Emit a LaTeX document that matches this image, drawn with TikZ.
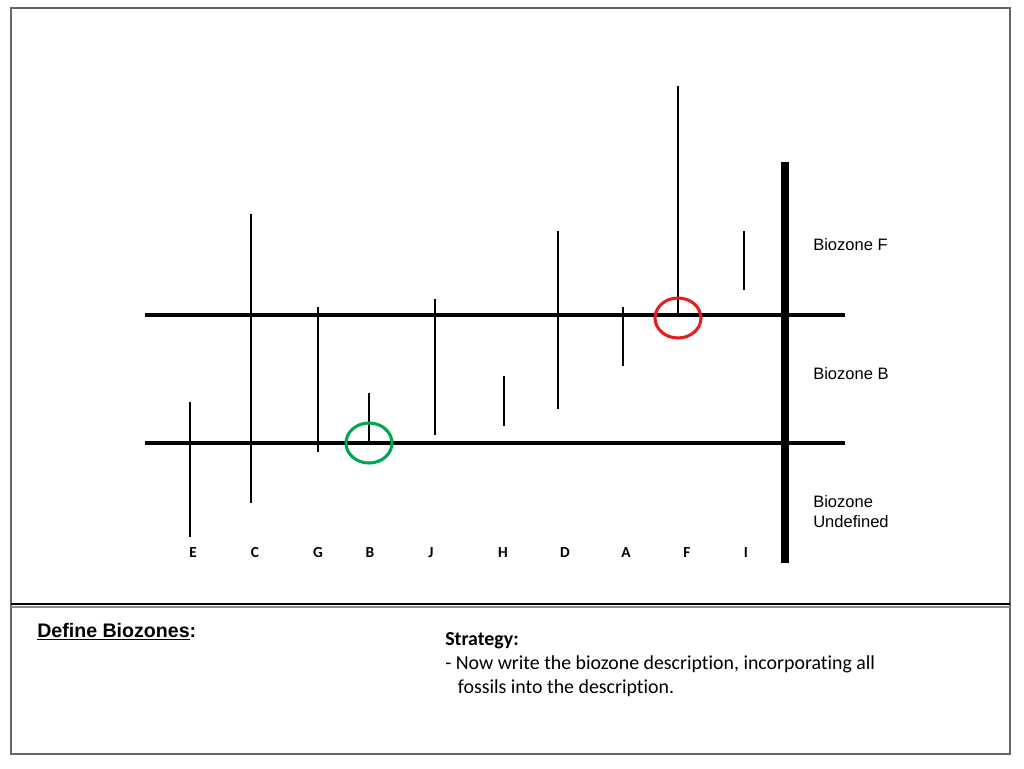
\documentclass[tikz,border=0pt]{standalone}
\usepackage{fontspec}
\setmainfont{Liberation Sans}
\newfontfamily\calib[Ligatures=NoCommon]{Carlito}
\begin{document}
\begin{tikzpicture}[x=0.75pt,y=-0.75pt,
  frame/.style={draw=black!60,line width=1.2pt},
  horizon/.style={line width=2.3pt,black},
  fossilrange/.style={line width=1.9pt,black},
  taxon/.style={font=\calib\bfseries\fontsize{11.5}{13}\selectfont,anchor=center,inner sep=0pt},
  zonelbl/.style={font=\fontsize{12.4}{15}\selectfont,anchor=west,inner sep=0pt,align=left},
  ringmark/.style={line width=2.3pt}]
\useasboundingbox (0,0) rectangle (1024,768);
\fill[white] (0,0) rectangle (1024,768);
% frame
\draw[frame] (11,8) rectangle (1010,754);
\draw[black,line width=1.2pt] (11,604) -- (1010,604);
\draw[black!45,line width=1.2pt] (11,607) -- (1010,607);
% horizons
\draw[horizon] (145,315) -- (845,315);
\draw[horizon] (145,443) -- (845,443);
\draw[line width=6pt] (785,162) -- (785,563);
% ranges
\draw[fossilrange] (190,402) -- (190,537);
\draw[fossilrange] (251,214) -- (251,503);
\draw[fossilrange] (318,307) -- (318,452);
\draw[fossilrange] (369,393) -- (369,443);
\draw[fossilrange] (435,299) -- (435,435);
\draw[fossilrange] (504,376) -- (504,426);
\draw[fossilrange] (558,231) -- (558,409);
\draw[fossilrange] (623,307) -- (623,366);
\draw[fossilrange] (678,86) -- (678,315);
\draw[fossilrange] (744,231) -- (744,290);
% circles
\draw[ringmark,draw={rgb,255:red,0;green,166;blue,81}] (369,443) ellipse [x radius=23, y radius=20];
\draw[ringmark,draw={rgb,255:red,230;green,30;blue,30}] (678,318) ellipse [x radius=23, y radius=20];
% labels
\node[taxon] (tE) at (193,553) {E};
\node[taxon] (tC) at (255,553) {C};
\node[taxon] (tG) at (318,553) {G};
\node[taxon] (tB) at (370,553) {B};
\node[taxon] (tJ) at (431,553) {J};
\node[taxon] (tH) at (503,553) {H};
\node[taxon] (tD) at (565,553) {D};
\node[taxon] (tA) at (626,553) {A};
\node[taxon] (tF) at (687,553) {F};
\node[taxon] (tI) at (746,553) {I};
\node[zonelbl] (zF) at (813,245) {Biozone F};
\node[zonelbl] (zB) at (813,374) {Biozone B};
\node[zonelbl] (zU) at (813,512) {Biozone\\Undefined};
\node[anchor=west,inner sep=0pt,font=\bfseries\fontsize{14.7}{16}\selectfont] (def) at (37,632) {\underline{Define Biozones}:};
\node[anchor=north west,inner sep=0pt,align=left,font=\calib\fontsize{14.9}{18}\selectfont] (strat) at (445,632)
  {\textbf{Strategy:}\\- Now write the biozone description, incorporating all\\\hspace*{9.5pt}fossils into the description.};
\end{tikzpicture}
\end{document}
